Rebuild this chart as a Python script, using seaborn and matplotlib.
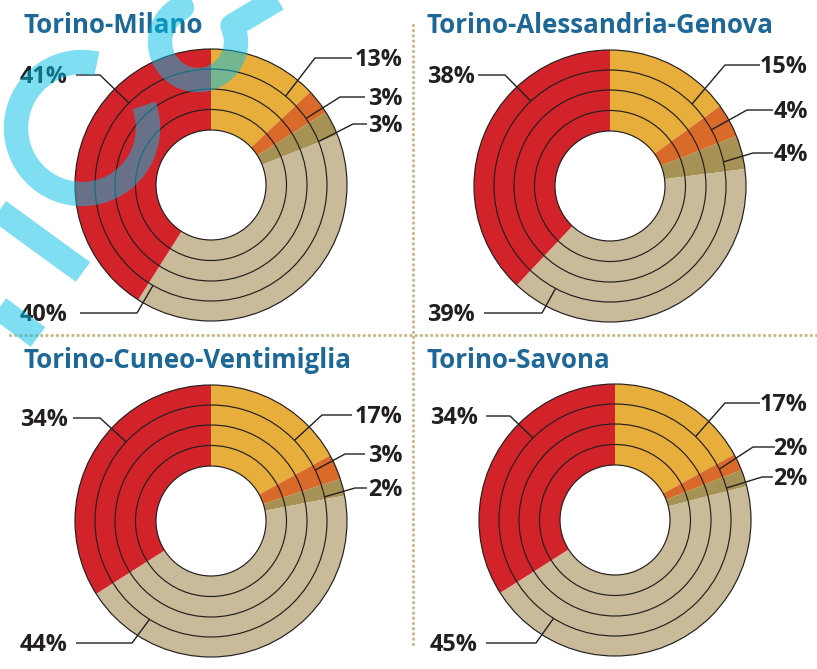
import numpy as np
import pandas as pd
import matplotlib
matplotlib.use("Agg")
import matplotlib.pyplot as plt
import seaborn as sns
from matplotlib.patches import Circle

# data: share of each category, clockwise from 12 o'clock
titles = ["Torino-Milano", "Torino-Alessandria-Genova",
          "Torino-Cuneo-Ventimiglia", "Torino-Savona"]
yellow_share = [13, 15, 17, 17]
orange_share = [3, 4, 3, 2]
olive_share = [3, 4, 2, 2]
beige_share = [40, 39, 44, 45]
red_share = [41, 38, 34, 34]

colors = ["#e8ae3b", "#d96a29", "#a69255", "#c9bb99", "#d2232a"]
title_color = "#1e6898"
ink = "#231f20"

W, H = 817, 669

# layout (pixel coords, y downwards)
centers = [(211, 185), (610, 186), (211, 521), (615, 520)]
title_pos = [(24, 33), (427, 33), (24, 368), (427, 368)]
# per slice: anchor angle (deg clockwise from top), elbow x, elbow y, line end x, text x, ha
leaders = [
    [(40, 315, 58, 352, 403, "right"), (55, 340, 97, 365, 403, "right"),
     (68, 353, 124, 367, 403, "right"), (210, 137, 313, 80, 20, "left"),
     (315, 100, 75, 76, 20, "left")],
    [(45, 725, 65, 760, 808, "right"), (61, 747, 110, 773, 808, "right"),
     (78, 753, 153, 773, 808, "right"), (208, 542, 313, 484, 427, "left"),
     (317, 505, 75, 478, 427, "left")],
    [(46, 322, 415, 352, 403, "right"), (64, 345, 454, 365, 403, "right"),
     (78, 355, 488, 367, 403, "right"), (212, 132, 643, 76, 20, "left"),
     (313, 100, 418, 73, 20, "left")],
    [(44, 725, 403, 760, 808, "right"), (64, 753, 447, 775, 808, "right"),
     (74, 762, 477, 773, 808, "right"), (212, 536, 643, 486, 430, "left"),
     (315, 510, 416, 486, 430, "left")],
]
ring_radii = [55, 75.5, 96, 116, 136]

sns.set_theme(style="white")
plt.rcParams["font.family"] = ["Open Sans", "DejaVu Sans"]

fig = plt.figure(figsize=(W / 100, H / 100), dpi=100)
ax = fig.add_axes([0, 0, 1, 1])


def fy(y):
    return H - y


df = pd.DataFrame({"yellow": yellow_share, "orange": orange_share,
                   "olive": olive_share, "beige": beige_share,
                   "red": red_share}, index=titles)

for i, name in enumerate(titles):
    cx, cy = centers[i]
    vals = df.loc[name].values
    ax.pie(vals, colors=colors, startangle=90, counterclock=False,
           radius=136, center=(cx, fy(cy)), frame=True,
           wedgeprops=dict(width=81, linewidth=0))
    for r in ring_radii:
        ax.add_patch(Circle((cx, fy(cy)), r, fill=False, lw=0.85,
                            edgecolor=ink, zorder=3))
    tx, ty = title_pos[i]
    ax.text(tx, fy(ty), name, fontsize=18.6, fontweight="bold",
            color=title_color, ha="left", va="baseline")
    for v, (ang, ex, ey, lx, txx, ha) in zip(vals, leaders[i]):
        a = np.deg2rad(ang)
        px = cx + 116 * np.sin(a)
        py = cy - 116 * np.cos(a)
        ax.plot([px, ex, lx], [fy(py), fy(ey), fy(ey)], color=ink,
                lw=1.0, zorder=4, solid_capstyle="butt")
        ax.text(txx, fy(ey + 8), f"{v}%", fontsize=16.8, fontweight="bold",
                color=ink, ha=ha, va="baseline")

# dotted separators
dot = dict(color="#c9b98f", lw=2.4, linestyle=(0, (0.01, 1.55)),
           dash_capstyle="round", zorder=2)
ax.plot([10, W], [fy(335), fy(335)], **dot)
ax.plot([413, 413], [fy(25), fy(645)], **dot)

# watermark strokes (decoration)
wm = dict(color="#00bfe5", alpha=0.5, lw=17.5, zorder=10,
          solid_capstyle="butt", solid_joinstyle="round")


def stroke_arc(cx, cy, r, a0, a1):
    t = np.deg2rad(np.linspace(a0, a1, 120))
    ax.plot(cx + r * np.cos(t), fy(cy) + r * np.sin(t), **wm)


stroke_arc(82, 128, 66, 77, 380)
t = np.deg2rad(np.linspace(115, 385, 100))
xs = np.concatenate([[172], 198 + 38 * np.cos(t), [284]])
ys = np.concatenate([[fy(-10)], fy(42) + 38 * np.sin(t), [fy(-5)]])
ax.plot(xs, ys, **wm)
ax.plot([-5, 83], [fy(208), fy(272)], **wm)
ax.plot([-5, 38], [fy(305), fy(337)], **wm)

ax.set_xlim(0, W)
ax.set_ylim(0, H)
ax.set_aspect("equal")
ax.axis("off")

fig.savefig("out.png", dpi=100)
